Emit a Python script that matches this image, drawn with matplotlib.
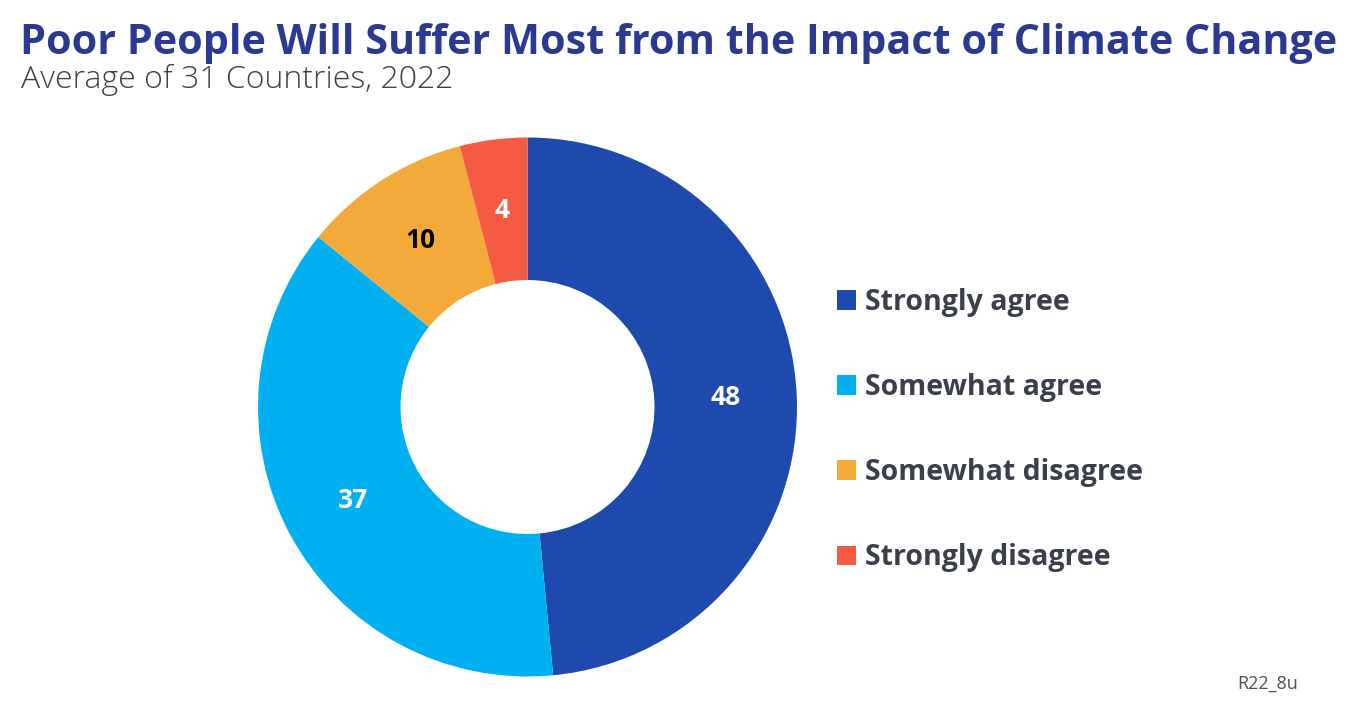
import matplotlib
matplotlib.use("Agg")
import matplotlib.pyplot as plt
import numpy as np

categories = ["Strongly agree", "Somewhat agree", "Somewhat disagree", "Strongly disagree"]
values = [48, 37, 10, 4]
colors = ["#1F4AAD", "#00B0F0", "#F4A93B", "#F55B43"]
label_colors = ["white", "white", "black", "white"]

title = "Poor People Will Suffer Most from the Impact of Climate Change"
subtitle = "Average of 31 Countries, 2022"
note = "R22_8u"

FONT = ["Open Sans", "DejaVu Sans"]
plt.rcParams['font.family'] = FONT

W, H = 1353, 708
fig = plt.figure(figsize=(W/100, H/100), dpi=100)

cx, cy, r = 527.5, 407, 269.5
ax = fig.add_axes([(cx - r)/W, (H - cy - r)/H, 2*r/W, 2*r/H])
ring = 1 - 127/269.5
wedges, _ = ax.pie(values, colors=colors, startangle=90, counterclock=False,
                   radius=1, wedgeprops=dict(width=ring, linewidth=0))
ax.set_xlim(-1, 1)
ax.set_ylim(-1, 1)
ax.set_aspect('equal')
ax.axis('off')

rmid = 1 - ring/2
for w, v, tc in zip(wedges, values, label_colors):
    ang = np.deg2rad((w.theta1 + w.theta2)/2)
    ax.text(rmid*np.cos(ang), rmid*np.sin(ang), str(v), ha='center', va='center',
            fontsize=19, fontweight='bold', color=tc)

fig.text(20/W, 1 - 54/H, title, fontsize=29.7, fontweight='bold', color="#2B3990",
         ha='left', va='baseline')
fig.text(21/W, 1 - 88/H, subtitle, fontsize=23, fontweight='light', color="#404040",
         ha='left', va='baseline')
fig.text(1268/W, 1 - 684/H, note, fontsize=13, color="#505050", ha='center', va='center')

leg = fig.legend(wedges, categories, loc='upper left', bbox_to_anchor=(837/W, 1 - 288/H),
                 frameon=False, fontsize=20.5, handlelength=0.68, handleheight=0.68,
                 handletextpad=0.32, labelspacing=1.97, borderaxespad=0, borderpad=0)
for t in leg.get_texts():
    t.set_fontweight('bold')
    t.set_color("#3A3F4B")

fig.savefig("out.png", dpi=100)
